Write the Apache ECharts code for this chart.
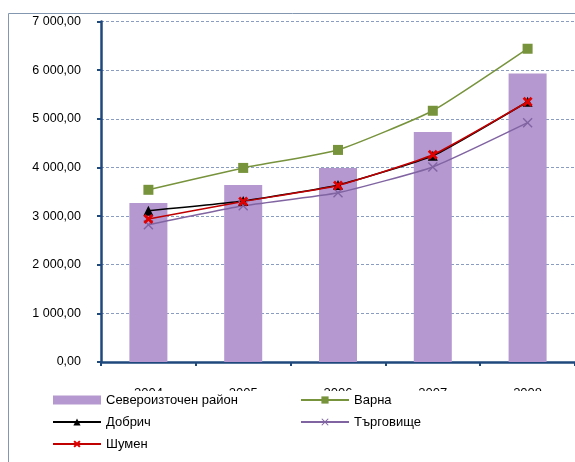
<!DOCTYPE html>
<html><head><meta charset="utf-8">
<script src="https://cdn.jsdelivr.net/npm/echarts@6/dist/echarts.min.js"></script>
<style>html,body{margin:0;padding:0;background:#fff}#c{width:575px;height:462px}</style>
</head><body><div id="c"></div>
<script>
var years = ['2004','2005','2006','2007','2008'];
var region = [3270, 3640, 3990, 4730, 5930];
var varna = [3540, 3990, 4360, 5165, 6440];
var dobrich = [3110, 3310, 3640, 4240, 5350];
var targovishte = [2820, 3210, 3480, 4010, 4920];
var shumen = [2940, 3300, 3630, 4260, 5350];
var yTicks = [0, 1000, 2000, 3000, 4000, 5000, 6000, 7000];

var X = 'path://M0,2 L2,0 L5,3 L8,0 L10,2 L7,5 L10,8 L8,10 L5,7 L2,10 L0,8 L3,5 Z';
var Xthin = 'path://M0,1 L1,0 L5,4 L9,0 L10,1 L6,5 L10,9 L9,10 L5,6 L1,10 L0,9 L4,5 Z';

function fmt(v){
  var s = Math.round(v).toString().replace(/\B(?=(\d{3})+(?!\d))/g, ' ');
  return s + ',00';
}
var font = 'Liberation Sans';
var chart = echarts.init(document.getElementById('c'));
chart.setOption({
  animation: false,
  textStyle: {fontFamily: font},
  grid: {left: 101, right: 0, top: 21.5, bottom: 100, containLabel: false},
  xAxis: {
    type: 'category', data: years, boundaryGap: true,
    axisLine: {lineStyle: {color: '#1f497d', width: 2.5}},
    axisTick: {show: true, length: 4, alignWithLabel: false, lineStyle: {color: '#1f497d', width: 2}},
    axisLabel: {margin: 25, color: '#000', fontSize: 13, fontFamily: font}
  },
  yAxis: {
    type: 'value', min: yTicks[0], max: yTicks[yTicks.length-1], interval: 1000,
    axisLine: {show: true, lineStyle: {color: '#1f497d', width: 2.5}},
    axisTick: {show: true, length: 4, lineStyle: {color: '#1f497d', width: 2}},
    axisLabel: {margin: 20, color: '#000', fontSize: 12.5, fontFamily: font, formatter: fmt},
    splitLine: {show: true, lineStyle: {color: '#8a9dc0', width: 1, type: [3, 2]}}
  },
  legend: [
    {data: [{name: 'Североизточен район', icon: 'rect'}, 'Добрич', 'Шумен'], orient: 'vertical', left: 47, top: 391,
     itemWidth: 48, itemHeight: 9, itemGap: 8, padding: [2, 5], z: 20,
     textStyle: {fontSize: 13, color: '#000', lineHeight: 14, fontFamily: font}},
    {data: ['Варна', 'Търговище'], orient: 'vertical', left: 295, top: 391,
     itemWidth: 48, itemHeight: 9, itemGap: 8, padding: [2, 5], z: 20,
     textStyle: {fontSize: 13, color: '#000', lineHeight: 14, fontFamily: font}}
  ],
  graphic: [
    {type: 'rect', z: 10, shape: {x: 10, y: 391, width: 565, height: 71}, style: {fill: '#fff'}},
    {type: 'rect', z: 11, shape: {x: 8.5, y: 13.5, width: 700, height: 600}, style: {fill: 'none', stroke: '#8497b0', lineWidth: 1}}
  ],
  series: [
    {name: 'Североизточен район', type: 'bar', data: region, barWidth: 38,
     itemStyle: {color: '#b598d0'}},
    {name: 'Варна', type: 'line', data: varna, smooth: 0.15, symbol: 'rect', symbolSize: 10,
     lineStyle: {color: '#77933c', width: 1.5}, itemStyle: {color: '#77933c'}},
    {name: 'Добрич', type: 'line', data: dobrich, smooth: 0.15, symbol: 'triangle', symbolSize: 10,
     lineStyle: {color: '#000', width: 1.5}, itemStyle: {color: '#000'}},
    {name: 'Търговище', type: 'line', data: targovishte, smooth: 0.15, symbol: Xthin, symbolSize: 10,
     lineStyle: {color: '#8064a2', width: 1.5}, itemStyle: {color: '#8064a2'}},
    {name: 'Шумен', type: 'line', data: shumen, smooth: 0.15, symbol: X, symbolSize: 10,
     lineStyle: {color: '#c00000', width: 1.5}, itemStyle: {color: '#e00000'}}
  ]
});
</script></body></html>
